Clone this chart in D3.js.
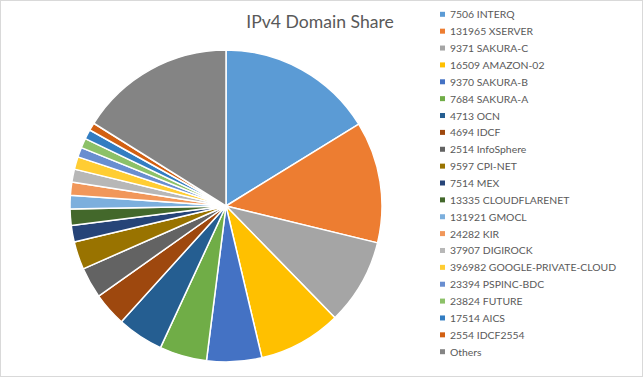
<!DOCTYPE html>
<html>
<head>
<meta charset="utf-8">
<script src="https://cdn.jsdelivr.net/npm/d3@7"></script>
<style>
  html, body { margin: 0; padding: 0; background: #fff; }
  svg { display: block; font-family: Lato, 'Open Sans', sans-serif; }
</style>
</head>
<body>
<script>
// Data (share in %)
const labels = [
  '7506 INTERQ', '131965 XSERVER', '9371 SAKURA-C', '16509 AMAZON-02',
  '9370 SAKURA-B', '7684 SAKURA-A', '4713 OCN', '4694 IDCF',
  '2514 InfoSphere', '9597 CPI-NET', '7514 MEX', '13335 CLOUDFLARENET',
  '131921 GMOCL', '24282 KIR', '37907 DIGIROCK', '396982 GOOGLE-PRIVATE-CLOUD',
  '23394 PSPINC-BDC', '23824 FUTURE', '17514 AICS', '2554 IDCF2554', 'Others'
];
const shares = [
  16.2, 12.6, 8.9, 8.6, 5.7, 4.9, 4.8, 3.5, 3.2, 2.9,
  1.7, 1.7, 1.4, 1.35, 1.35, 1.3, 1.0, 1.0, 1.0, 0.8, 16.1
];
const colors = [
  '#5b9bd5', '#ed7d31', '#a5a5a5', '#ffc000', '#4472c4', '#70ad47',
  '#255e91', '#9e480e', '#636363', '#997300', '#264478', '#43682b',
  '#7cafdd', '#f1975a', '#b7b7b7', '#ffcd33', '#698ed0', '#8cc168',
  '#327dc2', '#d26012', '#848484'
];

const width = 644;
const height = 378;

const svg = d3.select('body')
  .append('svg')
  .attr('width', width)
  .attr('height', height);

// Chart frame
svg.append('rect')
  .attr('x', 0.5)
  .attr('y', 0.5)
  .attr('width', width - 2)
  .attr('height', height - 2)
  .attr('fill', '#fff')
  .attr('stroke', '#d9d9d9');

// Title
svg.append('text')
  .attr('x', 320)
  .attr('y', 28)
  .attr('text-anchor', 'middle')
  .attr('font-size', 17.6)
  .attr('fill', '#595959')
  .text('IPv4 Domain Share');

// Pie
const data = labels.map((l, i) => ({ label: l, value: shares[i] }));
const color = d3.scaleOrdinal().domain(labels).range(colors);

const pie = d3.pie()
  .sort(null)
  .value(d => d.value);

const arc = d3.arc()
  .innerRadius(0)
  .outerRadius(156);

svg.append('g')
  .attr('transform', 'translate(226, 206)')
  .selectAll('path')
  .data(pie(data))
  .join('path')
  .attr('d', arc)
  .attr('fill', d => color(d.data.label))
  .attr('stroke', '#fff')
  .attr('stroke-width', 1.5)
  .attr('stroke-linejoin', 'round');

// Legend
const rowY = d3.scalePoint()
  .domain(labels)
  .range([14.3, 351.7]);

const leg = svg.append('g')
  .selectAll('g')
  .data(labels)
  .join('g')
  .attr('transform', d => `translate(440, ${rowY(d)})`);

leg.append('rect')
  .attr('x', 0)
  .attr('y', -2.5)
  .attr('width', 5)
  .attr('height', 5)
  .attr('fill', d => color(d));

leg.append('text')
  .attr('x', 10)
  .attr('y', 4)
  .attr('font-size', 10.4)
  .attr('fill', '#595959')
  .text(d => d);
</script>
</body>
</html>
